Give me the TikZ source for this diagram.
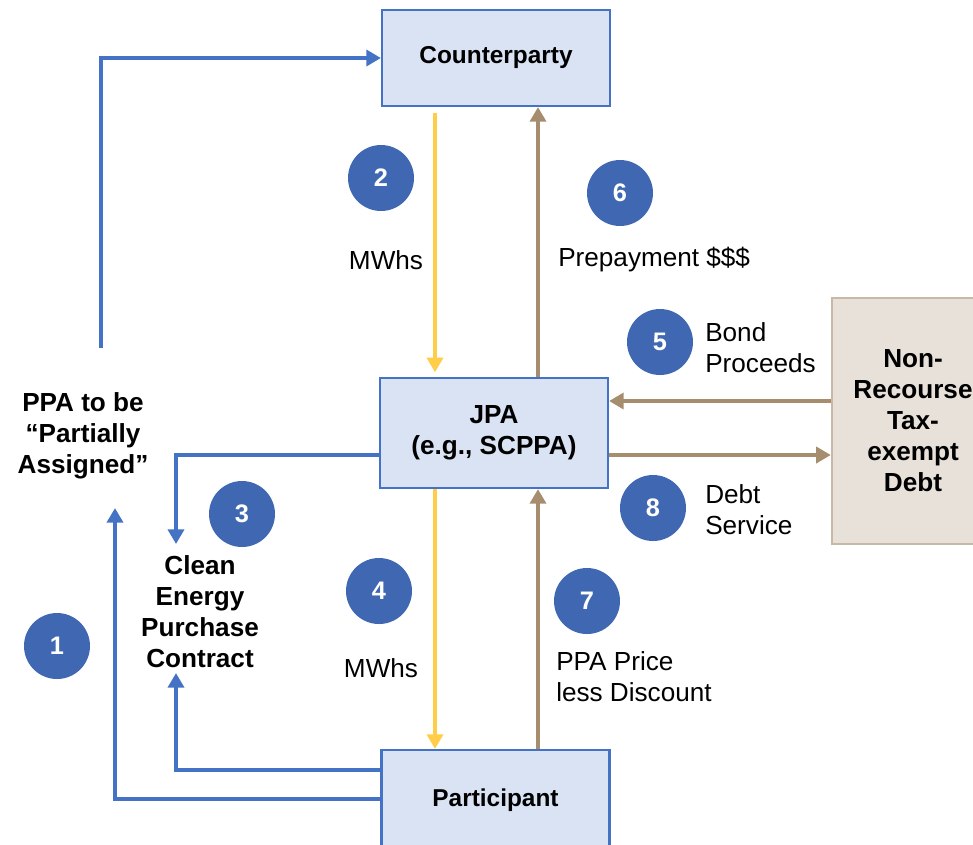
\documentclass[tikz,border=0pt]{standalone}
\usepackage{fontspec}
\setmainfont{Liberation Sans}
\usetikzlibrary{arrows.meta}
\definecolor{bl}{HTML}{4472C4}
\definecolor{boxfill}{HTML}{DAE3F3}
\definecolor{numc}{HTML}{4068B2}
\definecolor{brn}{HTML}{A68D6E}
\definecolor{ylw}{HTML}{FFCD48}
\definecolor{nrfill}{HTML}{E8E1DA}
\definecolor{nrdraw}{HTML}{C8B8A5}
\begin{document}
\begin{tikzpicture}[x=0.75pt,y=-0.75pt,
  box/.style={draw=bl, fill=boxfill, line width=1.6pt, minimum width=171pt, inner sep=0pt,
    font=\bfseries\fontsize{18.3}{23.25}\selectfont, align=center},
  nrbox/.style={draw=nrdraw, fill=nrfill, line width=1.8pt, minimum width=121.5pt, minimum height=184.5pt,
    inner sep=0pt, font=\bfseries\fontsize{19.6}{23.25}\selectfont, align=center},
  num/.style={circle, fill=numc, minimum size=49.5pt, inner sep=0pt, text=white,
    font=\bfseries\fontsize{19}{19}\selectfont},
  lab/.style={font=\fontsize{19.6}{23.25}\selectfont, align=left, inner sep=0pt},
  btxt/.style={font=\bfseries\fontsize{19.6}{23.25}\selectfont, align=center, inner sep=0pt},
  tip/.style={-{Triangle[length=11pt,width=12pt]}},
  barrow/.style={draw=bl, line width=3.2pt, tip},
  brarrow/.style={draw=brn, line width=3.2pt, tip},
  yarrow/.style={draw=ylw, line width=3.2pt, tip}]
\useasboundingbox (0,0) rectangle (973,844);
\clip (0,0) rectangle (973,844);

% boxes
\node[box, minimum height=72pt] (cp) at (496,58) {Counterparty};
\node[box, minimum height=82.5pt, font=\bfseries\fontsize{19.6}{23.25}\selectfont] (jpa) at (494,433) {JPA\\(e.g., SCPPA)};
\node[box, minimum height=75pt] (part) at (495.5,800) {Participant};
\node[nrbox] (nr) at (913,421) {Non-\\Recourse\\Tax-\\exempt\\Debt};

% text blocks
\node[btxt] (ppa) at (83,436) {PPA to be\\``Partially\\Assigned''};
\node[btxt] (cepc) at (200,612) {Clean\\Energy\\Purchase\\Contract};

% labels
\node[lab] (l2) at (386,260) {MWhs};
\node[lab, anchor=west] (l6) at (558,260) {Prepayment \$\$\$};
\node[lab, anchor=west] (l5) at (705,348) {Bond\\Proceeds};
\node[lab, anchor=west] (l8) at (705,510) {Debt\\Service};
\node[lab] (l4) at (381,668) {MWhs};
\node[lab, anchor=west] (l7) at (556,677) {PPA Price\\less Discount};

% numbers
\node[num] (n1) at (57,646) {1};
\node[num] (n2) at (381,178) {2};
\node[num] (n3) at (242,514) {3};
\node[num] (n4) at (379,591) {4};
\node[num] (n5) at (660,342) {5};
\node[num] (n6) at (620,193) {6};
\node[num] (n7) at (587,601) {7};
\node[num] (n8) at (653,508) {8};

% helper coordinates
\coordinate (a1) at (101,348);
\coordinate (y455) at (0,455);
\coordinate (y401) at (0,401);
\coordinate (y770) at (0,770);
\coordinate (y799) at (0,799);
\coordinate (cetop) at (176,544);
\coordinate (cebot) at (176,673);
\coordinate (ppabot) at (115,508);
\coordinate (xy) at (435,0);
\coordinate (xb) at (538,0);

% blue connectors
\draw[barrow] (a1) |- (cp.west);
\draw[barrow] (jpa.west |- y455) -| (cetop);
\draw[barrow] (part.west |- y770) -| (cebot);
\draw[barrow] (part.west |- y799) -| (ppabot);

% yellow
\draw[yarrow, shorten <=4.5pt, shorten >=3.5pt] (cp.south -| xy) -- (jpa.north -| xy);
\draw[yarrow] (jpa.south -| xy) -- (part.north -| xy);

% brown
\draw[brarrow] (jpa.north -| xb) -- (cp.south -| xb);
\draw[brarrow] (part.north -| xb) -- (jpa.south -| xb);
\draw[brarrow] (nr.west |- y401) -- (jpa.east |- y401);
\draw[brarrow] (jpa.east |- y455) -- (nr.west |- y455);
\end{tikzpicture}
\end{document}
